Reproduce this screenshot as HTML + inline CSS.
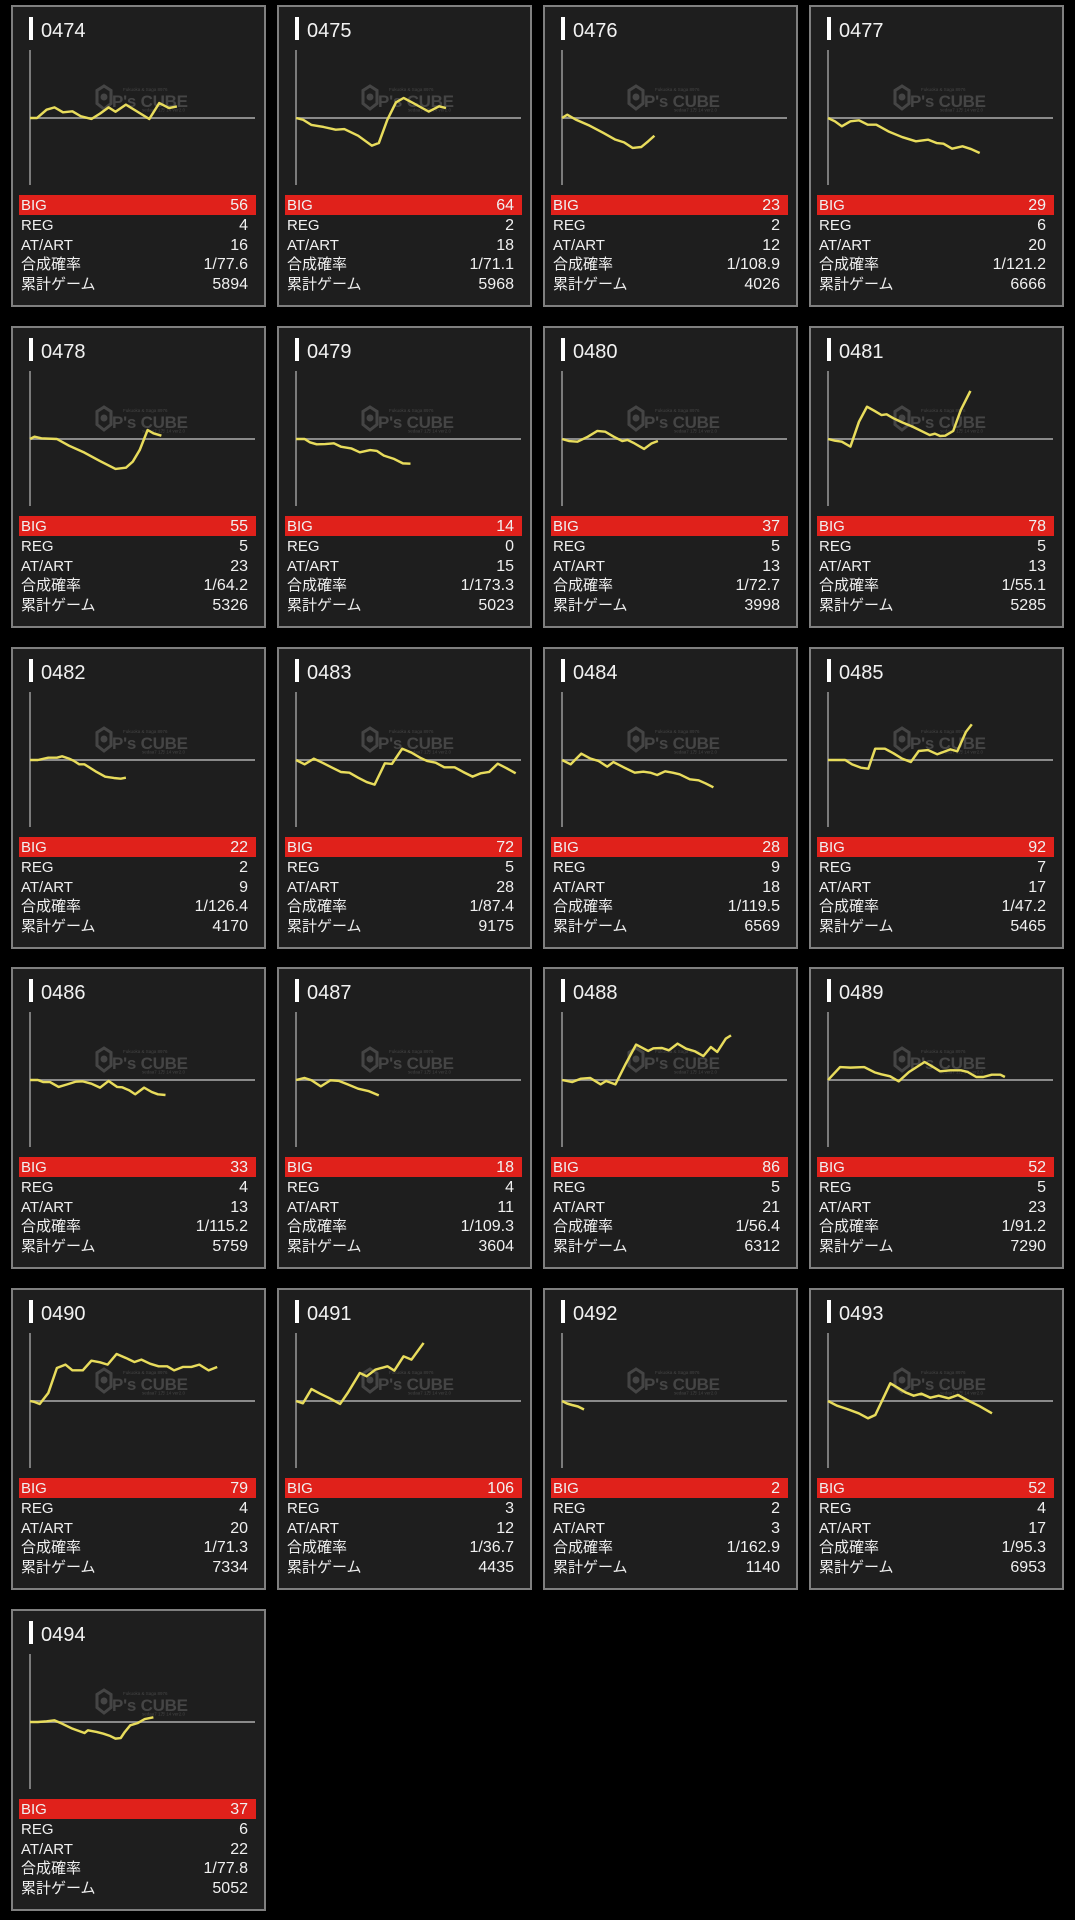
<!DOCTYPE html>
<html><head><meta charset="utf-8"><style>
html,body{margin:0;padding:0;background:#000;}
body{width:1075px;height:1920px;position:relative;overflow:hidden;font-family:"Liberation Sans","Noto Sans CJK JP",sans-serif;color:#f0f0f0;}
.c{position:absolute;width:255px;height:302px;background:#1e1e1e;box-shadow:inset 0 0 0 2px #7f7f7f;}
.c svg{position:absolute;left:0;top:0;}
.b{position:absolute;left:18px;top:12px;width:4px;height:23px;background:#fff;}
.t{position:absolute;left:30px;top:16px;font-size:20px;line-height:20px;color:#f2f2f2;}
.red{position:absolute;left:8px;top:190px;width:237px;height:20px;background:#e0211b;}
.r{position:absolute;left:10px;width:227px;height:19.6px;line-height:19.6px;font-size:15px;display:flex;justify-content:space-between;align-items:baseline;white-space:nowrap;}
.r b{font-weight:normal;font-size:16px;}
.r1{top:191px}.r2{top:211px}.r3{top:230.5px}.r4{top:250px}.r5{top:269.7px}
.wm text{font-family:"Liberation Sans","Noto Sans CJK JP",sans-serif;}
</style></head><body>

<!-- Row 1 -->
<div class="c" style="left:11px;top:5px"><div class="b"></div><div class="t">0474</div>
<svg width="255" height="185"><line x1="19" y1="45" x2="19" y2="180" stroke="#9a9a9a" stroke-width="1.5"/><line x1="19" y1="113" x2="244" y2="113" stroke="#8a8a8a" stroke-width="2"/>
<g class="wm" fill="#454545"><path d="M93 81 L100 85.5 L100 98.5 L93 104 L86 98.5 L86 85.5 Z" fill="none" stroke="#454545" stroke-width="3"/><circle cx="93" cy="92" r="3.5"/><text x="101" y="102" font-weight="bold" font-size="17" textLength="76">P's CUBE</text><text x="112" y="86" font-size="4.5">Fukuoka &amp; Saga 8976</text><text x="131" y="106.5" font-size="4.5">sedaa7 1万 14 ver2.0</text></g>
<g transform="translate(19,113) scale(1,0.967)"><polyline fill="none" stroke="#e8dc5c" stroke-width="2.5" stroke-linejoin="round" points="0,0 7,0 16.6,-8.6 24.5,-11 33,-5.9 42.4,-6.9 51,-1.7 61.4,1 70,-4.5 78.6,-11 85.5,-6.5 95.9,-13.8 107.9,-6.2 119.3,1 129.3,-15.5 139,-10.3 146.9,-12"/></g></svg>
<div class="red"></div>
<div class="r r1"><span>BIG</span><b>56</b></div><div class="r r2"><span>REG</span><b>4</b></div><div class="r r3"><span>AT/ART</span><b>16</b></div><div class="r r4"><span>合成確率</span><b>1/77.6</b></div><div class="r r5"><span>累計ゲーム</span><b>5894</b></div></div>

<div class="c" style="left:277px;top:5px"><div class="b"></div><div class="t">0475</div>
<svg width="255" height="185"><line x1="19" y1="45" x2="19" y2="180" stroke="#9a9a9a" stroke-width="1.5"/><line x1="19" y1="113" x2="244" y2="113" stroke="#8a8a8a" stroke-width="2"/>
<g class="wm" fill="#454545"><path d="M93 81 L100 85.5 L100 98.5 L93 104 L86 98.5 L86 85.5 Z" fill="none" stroke="#454545" stroke-width="3"/><circle cx="93" cy="92" r="3.5"/><text x="101" y="102" font-weight="bold" font-size="17" textLength="76">P's CUBE</text><text x="112" y="86" font-size="4.5">Fukuoka &amp; Saga 8976</text><text x="131" y="106.5" font-size="4.5">sedaa7 1万 14 ver2.0</text></g>
<g transform="translate(19,113) scale(1,0.967)"><polyline fill="none" stroke="#e8dc5c" stroke-width="2.5" stroke-linejoin="round" points="0,0 6.9,1.7 15.5,7.2 27.6,9.3 39.7,12.1 48.3,11.4 62.1,18.3 75.9,28.6 82.8,25.9 91.4,1.7 100,-16.2 107.6,-20.7 117.2,-15.5 132.8,-6.6 143.1,-12.1 150,-10.3"/></g></svg>
<div class="red"></div>
<div class="r r1"><span>BIG</span><b>64</b></div><div class="r r2"><span>REG</span><b>2</b></div><div class="r r3"><span>AT/ART</span><b>18</b></div><div class="r r4"><span>合成確率</span><b>1/71.1</b></div><div class="r r5"><span>累計ゲーム</span><b>5968</b></div></div>

<div class="c" style="left:543px;top:5px"><div class="b"></div><div class="t">0476</div>
<svg width="255" height="185"><line x1="19" y1="45" x2="19" y2="180" stroke="#9a9a9a" stroke-width="1.5"/><line x1="19" y1="113" x2="244" y2="113" stroke="#8a8a8a" stroke-width="2"/>
<g class="wm" fill="#454545"><path d="M93 81 L100 85.5 L100 98.5 L93 104 L86 98.5 L86 85.5 Z" fill="none" stroke="#454545" stroke-width="3"/><circle cx="93" cy="92" r="3.5"/><text x="101" y="102" font-weight="bold" font-size="17" textLength="76">P's CUBE</text><text x="112" y="86" font-size="4.5">Fukuoka &amp; Saga 8976</text><text x="131" y="106.5" font-size="4.5">sedaa7 1万 14 ver2.0</text></g>
<g transform="translate(19,113) scale(1,0.967)"><polyline fill="none" stroke="#e8dc5c" stroke-width="2.5" stroke-linejoin="round" points="0,0 5.2,-3.4 13.8,1.7 27.6,7.9 41.4,15.5 53.4,22.4 62.1,25.2 70.7,31 79.3,30 86.2,24.1 92.4,18.3"/></g></svg>
<div class="red"></div>
<div class="r r1"><span>BIG</span><b>23</b></div><div class="r r2"><span>REG</span><b>2</b></div><div class="r r3"><span>AT/ART</span><b>12</b></div><div class="r r4"><span>合成確率</span><b>1/108.9</b></div><div class="r r5"><span>累計ゲーム</span><b>4026</b></div></div>

<div class="c" style="left:809px;top:5px"><div class="b"></div><div class="t">0477</div>
<svg width="255" height="185"><line x1="19" y1="45" x2="19" y2="180" stroke="#9a9a9a" stroke-width="1.5"/><line x1="19" y1="113" x2="244" y2="113" stroke="#8a8a8a" stroke-width="2"/>
<g class="wm" fill="#454545"><path d="M93 81 L100 85.5 L100 98.5 L93 104 L86 98.5 L86 85.5 Z" fill="none" stroke="#454545" stroke-width="3"/><circle cx="93" cy="92" r="3.5"/><text x="101" y="102" font-weight="bold" font-size="17" textLength="76">P's CUBE</text><text x="112" y="86" font-size="4.5">Fukuoka &amp; Saga 8976</text><text x="131" y="106.5" font-size="4.5">sedaa7 1万 14 ver2.0</text></g>
<g transform="translate(19,113) scale(1,0.967)"><polyline fill="none" stroke="#e8dc5c" stroke-width="2.5" stroke-linejoin="round" points="0,0 6.9,3.4 13.8,8.6 22.4,3.4 31,2.4 39.7,6.9 48.3,6.9 60.3,13.8 74.1,19.7 87.9,24.1 100,22.4 108.6,25.9 115.5,26.6 124.1,31.7 134.5,29.3 143.1,32.1 151.7,36.2"/></g></svg>
<div class="red"></div>
<div class="r r1"><span>BIG</span><b>29</b></div><div class="r r2"><span>REG</span><b>6</b></div><div class="r r3"><span>AT/ART</span><b>20</b></div><div class="r r4"><span>合成確率</span><b>1/121.2</b></div><div class="r r5"><span>累計ゲーム</span><b>6666</b></div></div>

<!-- Row 2 -->
<div class="c" style="left:11px;top:326px"><div class="b"></div><div class="t">0478</div>
<svg width="255" height="185"><line x1="19" y1="45" x2="19" y2="180" stroke="#9a9a9a" stroke-width="1.5"/><line x1="19" y1="113" x2="244" y2="113" stroke="#8a8a8a" stroke-width="2"/>
<g class="wm" fill="#454545"><path d="M93 81 L100 85.5 L100 98.5 L93 104 L86 98.5 L86 85.5 Z" fill="none" stroke="#454545" stroke-width="3"/><circle cx="93" cy="92" r="3.5"/><text x="101" y="102" font-weight="bold" font-size="17" textLength="76">P's CUBE</text><text x="112" y="86" font-size="4.5">Fukuoka &amp; Saga 8976</text><text x="131" y="106.5" font-size="4.5">sedaa7 1万 14 ver2.0</text></g>
<g transform="translate(19,113) scale(1,0.967)"><polyline fill="none" stroke="#e8dc5c" stroke-width="2.5" stroke-linejoin="round" points="0,0 4.5,-2.4 11.4,-0.7 26.9,0 39,6.9 54.5,14.1 70,22.8 85.5,31 95.9,29.7 102.8,23.4 109.7,11.4 117.6,-9.3 123.4,-5.9 131.4,-3.4"/></g></svg>
<div class="red"></div>
<div class="r r1"><span>BIG</span><b>55</b></div><div class="r r2"><span>REG</span><b>5</b></div><div class="r r3"><span>AT/ART</span><b>23</b></div><div class="r r4"><span>合成確率</span><b>1/64.2</b></div><div class="r r5"><span>累計ゲーム</span><b>5326</b></div></div>

<div class="c" style="left:277px;top:326px"><div class="b"></div><div class="t">0479</div>
<svg width="255" height="185"><line x1="19" y1="45" x2="19" y2="180" stroke="#9a9a9a" stroke-width="1.5"/><line x1="19" y1="113" x2="244" y2="113" stroke="#8a8a8a" stroke-width="2"/>
<g class="wm" fill="#454545"><path d="M93 81 L100 85.5 L100 98.5 L93 104 L86 98.5 L86 85.5 Z" fill="none" stroke="#454545" stroke-width="3"/><circle cx="93" cy="92" r="3.5"/><text x="101" y="102" font-weight="bold" font-size="17" textLength="76">P's CUBE</text><text x="112" y="86" font-size="4.5">Fukuoka &amp; Saga 8976</text><text x="131" y="106.5" font-size="4.5">sedaa7 1万 14 ver2.0</text></g>
<g transform="translate(19,113) scale(1,0.967)"><polyline fill="none" stroke="#e8dc5c" stroke-width="2.5" stroke-linejoin="round" points="0,0 8.6,0 13.8,3.4 20.7,5.5 29.3,5.2 37.9,4.5 44.8,7.9 55.2,9.7 63.8,13.8 74.1,11.4 81,12.4 87.9,17.2 98.3,20.7 106.9,25.2 114.5,25.5"/></g></svg>
<div class="red"></div>
<div class="r r1"><span>BIG</span><b>14</b></div><div class="r r2"><span>REG</span><b>0</b></div><div class="r r3"><span>AT/ART</span><b>15</b></div><div class="r r4"><span>合成確率</span><b>1/173.3</b></div><div class="r r5"><span>累計ゲーム</span><b>5023</b></div></div>

<div class="c" style="left:543px;top:326px"><div class="b"></div><div class="t">0480</div>
<svg width="255" height="185"><line x1="19" y1="45" x2="19" y2="180" stroke="#9a9a9a" stroke-width="1.5"/><line x1="19" y1="113" x2="244" y2="113" stroke="#8a8a8a" stroke-width="2"/>
<g class="wm" fill="#454545"><path d="M93 81 L100 85.5 L100 98.5 L93 104 L86 98.5 L86 85.5 Z" fill="none" stroke="#454545" stroke-width="3"/><circle cx="93" cy="92" r="3.5"/><text x="101" y="102" font-weight="bold" font-size="17" textLength="76">P's CUBE</text><text x="112" y="86" font-size="4.5">Fukuoka &amp; Saga 8976</text><text x="131" y="106.5" font-size="4.5">sedaa7 1万 14 ver2.0</text></g>
<g transform="translate(19,113) scale(1,0.967)"><polyline fill="none" stroke="#e8dc5c" stroke-width="2.5" stroke-linejoin="round" points="0,0 6.9,2.1 15.5,2.8 25.9,-2.4 35.2,-8.3 43.1,-7.6 51.7,-2.4 60.3,2.1 65.5,1 72.4,4.5 82.1,10.3 89.7,4.5 95.9,2.1"/></g></svg>
<div class="red"></div>
<div class="r r1"><span>BIG</span><b>37</b></div><div class="r r2"><span>REG</span><b>5</b></div><div class="r r3"><span>AT/ART</span><b>13</b></div><div class="r r4"><span>合成確率</span><b>1/72.7</b></div><div class="r r5"><span>累計ゲーム</span><b>3998</b></div></div>

<div class="c" style="left:809px;top:326px"><div class="b"></div><div class="t">0481</div>
<svg width="255" height="185"><line x1="19" y1="45" x2="19" y2="180" stroke="#9a9a9a" stroke-width="1.5"/><line x1="19" y1="113" x2="244" y2="113" stroke="#8a8a8a" stroke-width="2"/>
<g class="wm" fill="#454545"><path d="M93 81 L100 85.5 L100 98.5 L93 104 L86 98.5 L86 85.5 Z" fill="none" stroke="#454545" stroke-width="3"/><circle cx="93" cy="92" r="3.5"/><text x="101" y="102" font-weight="bold" font-size="17" textLength="76">P's CUBE</text><text x="112" y="86" font-size="4.5">Fukuoka &amp; Saga 8976</text><text x="131" y="106.5" font-size="4.5">sedaa7 1万 14 ver2.0</text></g>
<g transform="translate(19,113) scale(1,0.967)"><polyline fill="none" stroke="#e8dc5c" stroke-width="2.5" stroke-linejoin="round" points="0,0 6.9,1.7 13.8,2.8 22.4,7.9 31,-17.9 39,-33.4 46.6,-29 53.4,-24.8 58.6,-25.5 65.5,-21.4 74.1,-17.2 84.5,-12.8 94.8,-7.6 101.7,-4.1 106.9,-5.5 112.1,-3.1 117.2,-3.4 125.2,-8.3 132.8,-30 142.4,-49.7"/></g></svg>
<div class="red"></div>
<div class="r r1"><span>BIG</span><b>78</b></div><div class="r r2"><span>REG</span><b>5</b></div><div class="r r3"><span>AT/ART</span><b>13</b></div><div class="r r4"><span>合成確率</span><b>1/55.1</b></div><div class="r r5"><span>累計ゲーム</span><b>5285</b></div></div>

<!-- Row 3 -->
<div class="c" style="left:11px;top:647px"><div class="b"></div><div class="t">0482</div>
<svg width="255" height="185"><line x1="19" y1="45" x2="19" y2="180" stroke="#9a9a9a" stroke-width="1.5"/><line x1="19" y1="113" x2="244" y2="113" stroke="#8a8a8a" stroke-width="2"/>
<g class="wm" fill="#454545"><path d="M93 81 L100 85.5 L100 98.5 L93 104 L86 98.5 L86 85.5 Z" fill="none" stroke="#454545" stroke-width="3"/><circle cx="93" cy="92" r="3.5"/><text x="101" y="102" font-weight="bold" font-size="17" textLength="76">P's CUBE</text><text x="112" y="86" font-size="4.5">Fukuoka &amp; Saga 8976</text><text x="131" y="106.5" font-size="4.5">sedaa7 1万 14 ver2.0</text></g>
<g transform="translate(19,113) scale(1,0.967)"><polyline fill="none" stroke="#e8dc5c" stroke-width="2.5" stroke-linejoin="round" points="0,0 7.9,0 18.3,-2.4 26.9,-2.4 32.1,-3.8 39,-1.4 44.1,1 49.3,4.5 54.5,4.5 59.7,7.9 66.6,12.4 75.2,17.2 83.8,18.6 90.7,19.3 95.9,18.3"/></g></svg>
<div class="red"></div>
<div class="r r1"><span>BIG</span><b>22</b></div><div class="r r2"><span>REG</span><b>2</b></div><div class="r r3"><span>AT/ART</span><b>9</b></div><div class="r r4"><span>合成確率</span><b>1/126.4</b></div><div class="r r5"><span>累計ゲーム</span><b>4170</b></div></div>

<div class="c" style="left:277px;top:647px"><div class="b"></div><div class="t">0483</div>
<svg width="255" height="185"><line x1="19" y1="45" x2="19" y2="180" stroke="#9a9a9a" stroke-width="1.5"/><line x1="19" y1="113" x2="244" y2="113" stroke="#8a8a8a" stroke-width="2"/>
<g class="wm" fill="#454545"><path d="M93 81 L100 85.5 L100 98.5 L93 104 L86 98.5 L86 85.5 Z" fill="none" stroke="#454545" stroke-width="3"/><circle cx="93" cy="92" r="3.5"/><text x="101" y="102" font-weight="bold" font-size="17" textLength="76">P's CUBE</text><text x="112" y="86" font-size="4.5">Fukuoka &amp; Saga 8976</text><text x="131" y="106.5" font-size="4.5">sedaa7 1万 14 ver2.0</text></g>
<g transform="translate(19,113) scale(1,0.967)"><polyline fill="none" stroke="#e8dc5c" stroke-width="2.5" stroke-linejoin="round" points="0,0 8.6,4.5 17.9,-1.4 27.6,3.4 36.2,7.9 44.8,12.4 53.4,13.1 62.1,18.3 70.7,22.8 78.6,25.5 88.9,3.4 95.9,4.1 106.2,-11.7 115.5,-7.6 124.1,-2.4 131,1 139.7,2.8 148.3,7.6 158.6,7.6 167.2,12.4 176.6,17.2 184.5,13.8 193.1,12.4 201.7,3.8 210.3,8.3 219.7,13.8"/></g></svg>
<div class="red"></div>
<div class="r r1"><span>BIG</span><b>72</b></div><div class="r r2"><span>REG</span><b>5</b></div><div class="r r3"><span>AT/ART</span><b>28</b></div><div class="r r4"><span>合成確率</span><b>1/87.4</b></div><div class="r r5"><span>累計ゲーム</span><b>9175</b></div></div>

<div class="c" style="left:543px;top:647px"><div class="b"></div><div class="t">0484</div>
<svg width="255" height="185"><line x1="19" y1="45" x2="19" y2="180" stroke="#9a9a9a" stroke-width="1.5"/><line x1="19" y1="113" x2="244" y2="113" stroke="#8a8a8a" stroke-width="2"/>
<g class="wm" fill="#454545"><path d="M93 81 L100 85.5 L100 98.5 L93 104 L86 98.5 L86 85.5 Z" fill="none" stroke="#454545" stroke-width="3"/><circle cx="93" cy="92" r="3.5"/><text x="101" y="102" font-weight="bold" font-size="17" textLength="76">P's CUBE</text><text x="112" y="86" font-size="4.5">Fukuoka &amp; Saga 8976</text><text x="131" y="106.5" font-size="4.5">sedaa7 1万 14 ver2.0</text></g>
<g transform="translate(19,113) scale(1,0.967)"><polyline fill="none" stroke="#e8dc5c" stroke-width="2.5" stroke-linejoin="round" points="0,0 8.6,4.5 19.3,-6.6 27.9,-1.7 36.6,1 45.2,6.9 51.4,2.1 62.4,7.9 72.8,13.1 81.4,12.1 88.3,13.1 95.2,15.5 103.1,11.7 110.7,13.1 117.6,14.8 127.9,20 136.6,21 143.4,24.1 151.4,28.3"/></g></svg>
<div class="red"></div>
<div class="r r1"><span>BIG</span><b>28</b></div><div class="r r2"><span>REG</span><b>9</b></div><div class="r r3"><span>AT/ART</span><b>18</b></div><div class="r r4"><span>合成確率</span><b>1/119.5</b></div><div class="r r5"><span>累計ゲーム</span><b>6569</b></div></div>

<div class="c" style="left:809px;top:647px"><div class="b"></div><div class="t">0485</div>
<svg width="255" height="185"><line x1="19" y1="45" x2="19" y2="180" stroke="#9a9a9a" stroke-width="1.5"/><line x1="19" y1="113" x2="244" y2="113" stroke="#8a8a8a" stroke-width="2"/>
<g class="wm" fill="#454545"><path d="M93 81 L100 85.5 L100 98.5 L93 104 L86 98.5 L86 85.5 Z" fill="none" stroke="#454545" stroke-width="3"/><circle cx="93" cy="92" r="3.5"/><text x="101" y="102" font-weight="bold" font-size="17" textLength="76">P's CUBE</text><text x="112" y="86" font-size="4.5">Fukuoka &amp; Saga 8976</text><text x="131" y="106.5" font-size="4.5">sedaa7 1万 14 ver2.0</text></g>
<g transform="translate(19,113) scale(1,0.967)"><polyline fill="none" stroke="#e8dc5c" stroke-width="2.5" stroke-linejoin="round" points="0,0 17.2,0 24.1,4.5 32.8,7.9 40.3,9 47.2,-11.7 56.9,-11.7 65.5,-6.9 74.1,-1.4 82.8,2.1 90.7,-9.3 100,-10.3 109.3,-5.9 122.4,-11 129.3,-9 137.9,-29 143.8,-36.9"/></g></svg>
<div class="red"></div>
<div class="r r1"><span>BIG</span><b>92</b></div><div class="r r2"><span>REG</span><b>7</b></div><div class="r r3"><span>AT/ART</span><b>17</b></div><div class="r r4"><span>合成確率</span><b>1/47.2</b></div><div class="r r5"><span>累計ゲーム</span><b>5465</b></div></div>

<!-- Row 4 -->
<div class="c" style="left:11px;top:967px"><div class="b"></div><div class="t">0486</div>
<svg width="255" height="185"><line x1="19" y1="45" x2="19" y2="180" stroke="#9a9a9a" stroke-width="1.5"/><line x1="19" y1="113" x2="244" y2="113" stroke="#8a8a8a" stroke-width="2"/>
<g class="wm" fill="#454545"><path d="M93 81 L100 85.5 L100 98.5 L93 104 L86 98.5 L86 85.5 Z" fill="none" stroke="#454545" stroke-width="3"/><circle cx="93" cy="92" r="3.5"/><text x="101" y="102" font-weight="bold" font-size="17" textLength="76">P's CUBE</text><text x="112" y="86" font-size="4.5">Fukuoka &amp; Saga 8976</text><text x="131" y="106.5" font-size="4.5">sedaa7 1万 14 ver2.0</text></g>
<g transform="translate(19,113) scale(1,0.967)"><polyline fill="none" stroke="#e8dc5c" stroke-width="2.5" stroke-linejoin="round" points="0,0 7.9,0 13.1,2.1 20,2.1 28.6,7.2 37.2,4.5 45.9,1.7 52.8,1.4 61.4,3.8 70,7.9 78.6,1 87.2,7.2 92.4,7.6 99.3,10.7 105.2,14.8 114.1,7.9 121.7,12.4 127.9,14.8 135.5,15.5"/></g></svg>
<div class="red"></div>
<div class="r r1"><span>BIG</span><b>33</b></div><div class="r r2"><span>REG</span><b>4</b></div><div class="r r3"><span>AT/ART</span><b>13</b></div><div class="r r4"><span>合成確率</span><b>1/115.2</b></div><div class="r r5"><span>累計ゲーム</span><b>5759</b></div></div>

<div class="c" style="left:277px;top:967px"><div class="b"></div><div class="t">0487</div>
<svg width="255" height="185"><line x1="19" y1="45" x2="19" y2="180" stroke="#9a9a9a" stroke-width="1.5"/><line x1="19" y1="113" x2="244" y2="113" stroke="#8a8a8a" stroke-width="2"/>
<g class="wm" fill="#454545"><path d="M93 81 L100 85.5 L100 98.5 L93 104 L86 98.5 L86 85.5 Z" fill="none" stroke="#454545" stroke-width="3"/><circle cx="93" cy="92" r="3.5"/><text x="101" y="102" font-weight="bold" font-size="17" textLength="76">P's CUBE</text><text x="112" y="86" font-size="4.5">Fukuoka &amp; Saga 8976</text><text x="131" y="106.5" font-size="4.5">sedaa7 1万 14 ver2.0</text></g>
<g transform="translate(19,113) scale(1,0.967)"><polyline fill="none" stroke="#e8dc5c" stroke-width="2.5" stroke-linejoin="round" points="0,0 8.6,-2.1 15.5,0.3 24.8,6.6 34.5,0.3 43.1,1 51.7,4.5 62.1,9 72.4,11.4 82.8,15.9"/></g></svg>
<div class="red"></div>
<div class="r r1"><span>BIG</span><b>18</b></div><div class="r r2"><span>REG</span><b>4</b></div><div class="r r3"><span>AT/ART</span><b>11</b></div><div class="r r4"><span>合成確率</span><b>1/109.3</b></div><div class="r r5"><span>累計ゲーム</span><b>3604</b></div></div>

<div class="c" style="left:543px;top:967px"><div class="b"></div><div class="t">0488</div>
<svg width="255" height="185"><line x1="19" y1="45" x2="19" y2="180" stroke="#9a9a9a" stroke-width="1.5"/><line x1="19" y1="113" x2="244" y2="113" stroke="#8a8a8a" stroke-width="2"/>
<g class="wm" fill="#454545"><path d="M93 81 L100 85.5 L100 98.5 L93 104 L86 98.5 L86 85.5 Z" fill="none" stroke="#454545" stroke-width="3"/><circle cx="93" cy="92" r="3.5"/><text x="101" y="102" font-weight="bold" font-size="17" textLength="76">P's CUBE</text><text x="112" y="86" font-size="4.5">Fukuoka &amp; Saga 8976</text><text x="131" y="106.5" font-size="4.5">sedaa7 1万 14 ver2.0</text></g>
<g transform="translate(19,113) scale(1,0.967)"><polyline fill="none" stroke="#e8dc5c" stroke-width="2.5" stroke-linejoin="round" points="0,0 10.3,2.1 19,-1.4 28.3,-2.1 38.6,4.5 44.1,1 53.4,4.5 63.8,-16.9 74.1,-36.6 86.2,-30 91.4,-32.8 100,-33.1 106.9,-30.7 115.5,-37.6 124.1,-32.4 132.8,-29.7 141.4,-24.8 148.9,-34.1 155.2,-29 163.8,-42.8 169,-46.2"/></g></svg>
<div class="red"></div>
<div class="r r1"><span>BIG</span><b>86</b></div><div class="r r2"><span>REG</span><b>5</b></div><div class="r r3"><span>AT/ART</span><b>21</b></div><div class="r r4"><span>合成確率</span><b>1/56.4</b></div><div class="r r5"><span>累計ゲーム</span><b>6312</b></div></div>

<div class="c" style="left:809px;top:967px"><div class="b"></div><div class="t">0489</div>
<svg width="255" height="185"><line x1="19" y1="45" x2="19" y2="180" stroke="#9a9a9a" stroke-width="1.5"/><line x1="19" y1="113" x2="244" y2="113" stroke="#8a8a8a" stroke-width="2"/>
<g class="wm" fill="#454545"><path d="M93 81 L100 85.5 L100 98.5 L93 104 L86 98.5 L86 85.5 Z" fill="none" stroke="#454545" stroke-width="3"/><circle cx="93" cy="92" r="3.5"/><text x="101" y="102" font-weight="bold" font-size="17" textLength="76">P's CUBE</text><text x="112" y="86" font-size="4.5">Fukuoka &amp; Saga 8976</text><text x="131" y="106.5" font-size="4.5">sedaa7 1万 14 ver2.0</text></g>
<g transform="translate(19,113) scale(1,0.967)"><polyline fill="none" stroke="#e8dc5c" stroke-width="2.5" stroke-linejoin="round" points="0,0 12.1,-13.4 22.4,-12.8 36.2,-13.4 46.6,-7.9 53.4,-5.9 62.1,-3.8 70.7,1.4 81,-8.3 96.6,-18.6 105.2,-13.4 112.1,-9 122.4,-10 132.8,-10 139.7,-8.3 148.3,-3.1 155.2,-3.1 163.8,-5.5 172.4,-5.5 176.9,-3.1"/></g></svg>
<div class="red"></div>
<div class="r r1"><span>BIG</span><b>52</b></div><div class="r r2"><span>REG</span><b>5</b></div><div class="r r3"><span>AT/ART</span><b>23</b></div><div class="r r4"><span>合成確率</span><b>1/91.2</b></div><div class="r r5"><span>累計ゲーム</span><b>7290</b></div></div>

<!-- Row 5 -->
<div class="c" style="left:11px;top:1288px"><div class="b"></div><div class="t">0490</div>
<svg width="255" height="185"><line x1="19" y1="45" x2="19" y2="180" stroke="#9a9a9a" stroke-width="1.5"/><line x1="19" y1="113" x2="244" y2="113" stroke="#8a8a8a" stroke-width="2"/>
<g class="wm" fill="#454545"><path d="M93 81 L100 85.5 L100 98.5 L93 104 L86 98.5 L86 85.5 Z" fill="none" stroke="#454545" stroke-width="3"/><circle cx="93" cy="92" r="3.5"/><text x="101" y="102" font-weight="bold" font-size="17" textLength="76">P's CUBE</text><text x="112" y="86" font-size="4.5">Fukuoka &amp; Saga 8976</text><text x="131" y="106.5" font-size="4.5">sedaa7 1万 14 ver2.0</text></g>
<g transform="translate(19,113) scale(1,0.967)"><polyline fill="none" stroke="#e8dc5c" stroke-width="2.5" stroke-linejoin="round" points="0,0 4.5,1 9.7,3.1 18.3,-8.3 26.9,-34.1 35.5,-37.6 42.4,-31.7 52.8,-31.7 61.4,-41.7 70,-40 77.6,-37.6 86.6,-48.6 95.9,-44.5 104.5,-40.3 111.4,-42.8 120,-38.6 128.6,-35.9 137.2,-35.9 144.1,-31.7 152.8,-35.2 161.4,-35.2 169.3,-37.6 178.6,-31.7 187.2,-35.2"/></g></svg>
<div class="red"></div>
<div class="r r1"><span>BIG</span><b>79</b></div><div class="r r2"><span>REG</span><b>4</b></div><div class="r r3"><span>AT/ART</span><b>20</b></div><div class="r r4"><span>合成確率</span><b>1/71.3</b></div><div class="r r5"><span>累計ゲーム</span><b>7334</b></div></div>

<div class="c" style="left:277px;top:1288px"><div class="b"></div><div class="t">0491</div>
<svg width="255" height="185"><line x1="19" y1="45" x2="19" y2="180" stroke="#9a9a9a" stroke-width="1.5"/><line x1="19" y1="113" x2="244" y2="113" stroke="#8a8a8a" stroke-width="2"/>
<g class="wm" fill="#454545"><path d="M93 81 L100 85.5 L100 98.5 L93 104 L86 98.5 L86 85.5 Z" fill="none" stroke="#454545" stroke-width="3"/><circle cx="93" cy="92" r="3.5"/><text x="101" y="102" font-weight="bold" font-size="17" textLength="76">P's CUBE</text><text x="112" y="86" font-size="4.5">Fukuoka &amp; Saga 8976</text><text x="131" y="106.5" font-size="4.5">sedaa7 1万 14 ver2.0</text></g>
<g transform="translate(19,113) scale(1,0.967)"><polyline fill="none" stroke="#e8dc5c" stroke-width="2.5" stroke-linejoin="round" points="0,0 6.9,2.4 15.5,-12.4 24.1,-7.6 34.5,-2.4 44.1,3.1 51.7,-8.3 63.8,-29 70.7,-25.5 79.3,-32.4 91.4,-35.9 98.3,-31.4 107.6,-46.2 115.5,-42.8 127.6,-60"/></g></svg>
<div class="red"></div>
<div class="r r1"><span>BIG</span><b>106</b></div><div class="r r2"><span>REG</span><b>3</b></div><div class="r r3"><span>AT/ART</span><b>12</b></div><div class="r r4"><span>合成確率</span><b>1/36.7</b></div><div class="r r5"><span>累計ゲーム</span><b>4435</b></div></div>

<div class="c" style="left:543px;top:1288px"><div class="b"></div><div class="t">0492</div>
<svg width="255" height="185"><line x1="19" y1="45" x2="19" y2="180" stroke="#9a9a9a" stroke-width="1.5"/><line x1="19" y1="113" x2="244" y2="113" stroke="#8a8a8a" stroke-width="2"/>
<g class="wm" fill="#454545"><path d="M93 81 L100 85.5 L100 98.5 L93 104 L86 98.5 L86 85.5 Z" fill="none" stroke="#454545" stroke-width="3"/><circle cx="93" cy="92" r="3.5"/><text x="101" y="102" font-weight="bold" font-size="17" textLength="76">P's CUBE</text><text x="112" y="86" font-size="4.5">Fukuoka &amp; Saga 8976</text><text x="131" y="106.5" font-size="4.5">sedaa7 1万 14 ver2.0</text></g>
<g transform="translate(19,113)"><polyline fill="none" stroke="#e8dc5c" stroke-width="2.5" stroke-linejoin="round" points="0,0 5,2.5 10,4 16,5.5 22,8.5"/></g></svg>
<div class="red"></div>
<div class="r r1"><span>BIG</span><b>2</b></div><div class="r r2"><span>REG</span><b>2</b></div><div class="r r3"><span>AT/ART</span><b>3</b></div><div class="r r4"><span>合成確率</span><b>1/162.9</b></div><div class="r r5"><span>累計ゲーム</span><b>1140</b></div></div>

<div class="c" style="left:809px;top:1288px"><div class="b"></div><div class="t">0493</div>
<svg width="255" height="185"><line x1="19" y1="45" x2="19" y2="180" stroke="#9a9a9a" stroke-width="1.5"/><line x1="19" y1="113" x2="244" y2="113" stroke="#8a8a8a" stroke-width="2"/>
<g class="wm" fill="#454545"><path d="M93 81 L100 85.5 L100 98.5 L93 104 L86 98.5 L86 85.5 Z" fill="none" stroke="#454545" stroke-width="3"/><circle cx="93" cy="92" r="3.5"/><text x="101" y="102" font-weight="bold" font-size="17" textLength="76">P's CUBE</text><text x="112" y="86" font-size="4.5">Fukuoka &amp; Saga 8976</text><text x="131" y="106.5" font-size="4.5">sedaa7 1万 14 ver2.0</text></g>
<g transform="translate(19,113)"><polyline fill="none" stroke="#e8dc5c" stroke-width="2.5" stroke-linejoin="round" points="0,0 9,4.7 19,8 30.7,12.3 40,17.3 47.3,14 62.3,-17.7 70.7,-12.7 77.3,-8.7 85.7,-5.3 93.3,-7.3 102.3,-3.3 110.7,-5.3 120.7,-2.7 130,-6 139,-1 150.7,4.7 164,12.3"/></g></svg>
<div class="red"></div>
<div class="r r1"><span>BIG</span><b>52</b></div><div class="r r2"><span>REG</span><b>4</b></div><div class="r r3"><span>AT/ART</span><b>17</b></div><div class="r r4"><span>合成確率</span><b>1/95.3</b></div><div class="r r5"><span>累計ゲーム</span><b>6953</b></div></div>

<!-- Row 6 -->
<div class="c" style="left:11px;top:1609px"><div class="b"></div><div class="t">0494</div>
<svg width="255" height="185"><line x1="19" y1="45" x2="19" y2="180" stroke="#9a9a9a" stroke-width="1.5"/><line x1="19" y1="113" x2="244" y2="113" stroke="#8a8a8a" stroke-width="2"/>
<g class="wm" fill="#454545"><path d="M93 81 L100 85.5 L100 98.5 L93 104 L86 98.5 L86 85.5 Z" fill="none" stroke="#454545" stroke-width="3"/><circle cx="93" cy="92" r="3.5"/><text x="101" y="102" font-weight="bold" font-size="17" textLength="76">P's CUBE</text><text x="112" y="86" font-size="4.5">Fukuoka &amp; Saga 8976</text><text x="131" y="106.5" font-size="4.5">sedaa7 1万 14 ver2.0</text></g>
<g transform="translate(19,113) scale(1,0.967)"><polyline fill="none" stroke="#e8dc5c" stroke-width="2.5" stroke-linejoin="round" points="0,0 7.9,0 16.6,-0.7 24.5,-1.7 32.1,1.7 42.4,6.9 54.5,11.4 57.9,8.6 66.6,10.3 73.4,12.1 80.3,14.5 85.5,17.2 90.7,16.6 94.8,10.3 100.3,3.4 107.9,1 114.8,-3.1 123.4,-4.8"/></g></svg>
<div class="red"></div>
<div class="r r1"><span>BIG</span><b>37</b></div><div class="r r2"><span>REG</span><b>6</b></div><div class="r r3"><span>AT/ART</span><b>22</b></div><div class="r r4"><span>合成確率</span><b>1/77.8</b></div><div class="r r5"><span>累計ゲーム</span><b>5052</b></div></div>

</body></html>
